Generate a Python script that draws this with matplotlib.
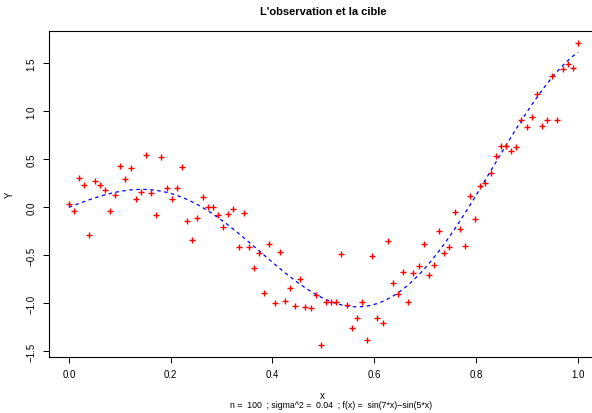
import numpy as np
import matplotlib
matplotlib.use("Agg")
import matplotlib.pyplot as plt

plt.rcParams['font.family'] = ['Liberation Sans', 'DejaVu Sans']

x_obs = [i / 99 for i in range(100)]
y_obs = [0.031, -0.042, 0.302, 0.229, -0.289, 0.274, 0.229, 0.180, -0.042, 0.125,
         0.427, 0.295, 0.406, 0.083, 0.156, 0.542, 0.146, -0.080, 0.521, 0.201,
         0.083, 0.201, 0.417, -0.143, -0.341, -0.115, 0.104, 0.000, 0.000, -0.083,
         -0.208, -0.073, -0.021, -0.417, -0.059, -0.417, -0.632, -0.473, -0.896, -0.385,
         -1.000, -0.469, -0.976, -0.844, -1.031, -0.750, -1.042, -1.052, -0.910, -1.438,
         -0.986, -0.986, -0.986, -0.490, -1.021, -1.260, -1.156, -0.986, -1.385, -0.510,
         -1.156, -1.208, -0.354, -0.792, -0.906, -0.677, -0.990, -0.688, -0.615, -0.385,
         -0.708, -0.604, -0.250, -0.479, -0.417, -0.052, -0.229, -0.406, 0.115, -0.125,
         0.219, 0.250, 0.354, 0.531, 0.635, 0.635, 0.583, 0.625, 0.906, 0.833,
         0.938, 1.177, 0.844, 0.906, 1.365, 0.906, 1.438, 1.490, 1.448, 1.708]

# target function shown in the subtitle: f(x) = sin(7x) - sin(5x)
x_fun = np.array(x_obs)
y_fun = np.sin(7 * x_fun) - np.sin(5 * x_fun)

x_ticks = [0.0, 0.2, 0.4, 0.6, 0.8, 1.0]
y_ticks = [-1.5, -1.0, -0.5, 0.0, 0.5, 1.0, 1.5]

title = "L'observation et la cible"
xlabel = "x"
ylabel = "Y"
subtitle = "n =  100  ; sigma^2 =  0.04  ; f(x) =  sin(7*x)\u2212sin(5*x)"

W, H = 592, 414
fig = plt.figure(figsize=(W / 100, H / 100), dpi=100)

left_px, right_px, top_px, bot_px = 48.5, 598.3, 32.3, 358.3
ax = fig.add_axes([left_px / W, 1 - bot_px / H, (right_px - left_px) / W, (bot_px - top_px) / H])

ax.plot(x_fun, y_fun, color='blue', lw=0.9, linestyle=(0, (2.8, 2.8)))
ax.plot(x_obs, y_obs, linestyle='none', marker='+', color='#ff0000', markersize=5,
        markeredgewidth=1.0, markeredgecolor='#ff0000')

ax.set_xlim(-0.04, 1.04)
ymin, ymax = min(y_obs), max(y_obs)
r = ymax - ymin
ax.set_ylim(ymin - 0.04 * r, ymax + 0.04 * r)

ax.set_xticks(x_ticks)
ax.set_xticklabels([f"{v:.1f}" for v in x_ticks])
ax.set_yticks(y_ticks)
ax.set_yticklabels([f"{v:.1f}".replace('-', '\u2212') for v in y_ticks], rotation=90, va='center')

ax.tick_params(axis='both', direction='out', length=4.5, width=0.7, labelsize=7, colors='black', pad=4)
for s in ax.spines.values():
    s.set_linewidth(0.8)
    s.set_color('black')

fig.text(323 / W, 1 - 12 / H, title, ha='center', va='center', fontsize=8, fontweight='bold')
fig.text(10 / W, 1 - 195 / H, ylabel, ha='center', va='center', rotation=90, fontsize=7)
fig.text(322 / W, 1 - 396 / H, xlabel, ha='center', va='center', fontsize=7)
fig.text(331 / W, 1 - 406 / H, subtitle, ha='center', va='center', fontsize=6.3)

fig.savefig("out.png", dpi=100)
